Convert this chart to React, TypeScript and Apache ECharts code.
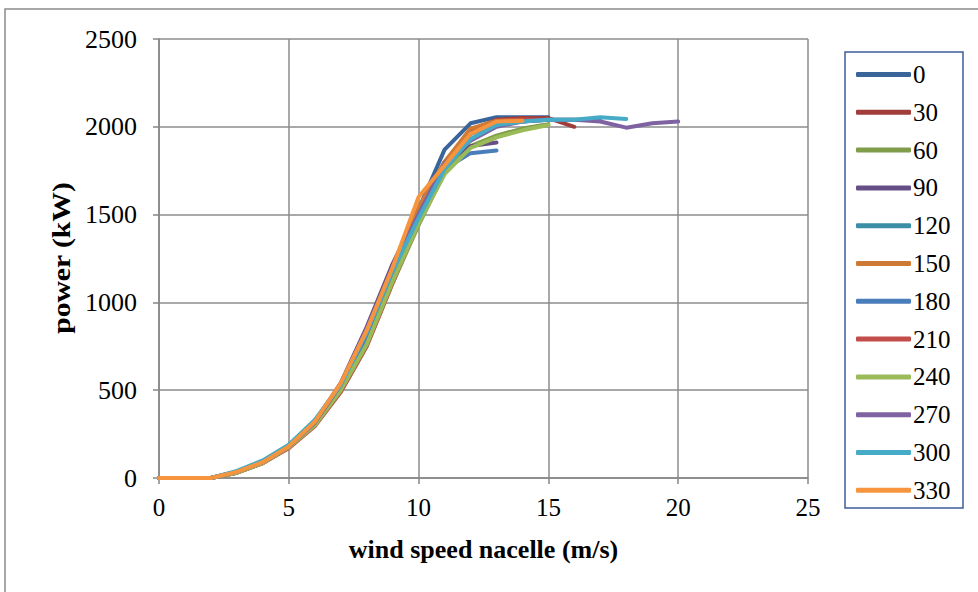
import React, { useEffect, useRef } from "react";
import * as echarts from "echarts";

const directions = ["0", "30", "60", "90", "120", "150", "180", "210", "240", "270", "300", "330"];
const colors = ["#3A659A", "#A03C3A", "#7F9C48", "#664E87", "#3A8FA6", "#CF7A34", "#4A7EBB", "#C24D4A", "#9ABB58", "#7E62A1", "#45ABC7", "#F7953F"];

const p0 = [0, 0, 0, 35, 90, 180, 310, 520, 830, 1180, 1530, 1870, 2020, 2055, 2055, 2055];
const p30 = [0, 0, 0, 30, 85, 175, 300, 500, 760, 1120, 1480, 1780, 1980, 2040, 2050, 2050, 2000];
const p60 = [0, 0, 0, 30, 85, 175, 300, 490, 750, 1110, 1440, 1740, 1890, 1950, 1990, 2015];
const p90 = [0, 0, 0, 35, 90, 185, 320, 540, 860, 1220, 1520, 1800, 1890, 1910];
const p120 = [0, 0, 0, 35, 95, 185, 320, 520, 820, 1170, 1500, 1800, 1960, 2020, 2030, 2040, 2040, 2045];
const p150 = [0, 0, 0, 35, 90, 180, 315, 520, 820, 1170, 1540, 1800, 1990, 2035, 2040];
const p180 = [0, 0, 0, 35, 90, 180, 310, 510, 800, 1150, 1500, 1760, 1850, 1865];
const p210 = [0, 0, 0, 30, 85, 170, 295, 490, 750, 1110, 1460, 1770, 1960, 2030, 2040, 2040];
const p240 = [0, 0, 0, 30, 85, 175, 300, 500, 760, 1120, 1450, 1730, 1880, 1940, 1980, 2010];
const p270 = [0, 0, 0, 35, 90, 180, 315, 530, 850, 1200, 1500, 1790, 1920, 2000, 2030, 2040, 2040, 2030, 1995, 2020, 2030];
const p300 = [0, 0, 0, 40, 100, 190, 330, 530, 830, 1180, 1480, 1760, 1930, 2010, 2030, 2040, 2040, 2055, 2045];
const p330 = [0, 0, 0, 35, 90, 180, 320, 540, 840, 1200, 1600, 1780, 1960, 2030, 2035];

const powerCurves = [p0, p30, p60, p90, p120, p150, p180, p210, p240, p270, p300, p330];

const xTitle = "wind speed nacelle (m/s)";
const yTitle = "power (kW)";

const FONT = "'Liberation Serif', 'Times New Roman', serif";

export default function App() {
  const ref = useRef<HTMLDivElement>(null);
  useEffect(() => {
    document.body.style.margin = "0";
    const chart = echarts.init(ref.current!, null, { renderer: "svg" });
    const series = powerCurves.map((vals, i) => ({
      name: directions[i],
      type: "line",
      data: vals.map((v, x) => [x, v]),
      showSymbol: false,
      symbol: "none",
      lineStyle: { width: 4, color: colors[i], cap: "round", join: "round" },
      itemStyle: { color: colors[i] },
      z: 2 + i,
    }));
    chart.setOption({
      animation: false,
      backgroundColor: "#ffffff",
      textStyle: { fontFamily: FONT },
      grid: { left: 159, right: 170, top: 39, bottom: 114, containLabel: false },
      xAxis: {
        type: "value",
        min: 0,
        max: 25,
        interval: 5,
        name: xTitle,
        nameLocation: "middle",
        nameGap: 58,
        nameTextStyle: { fontFamily: FONT, fontSize: 26, fontWeight: "bold", color: "#000" },
        axisLine: { show: true, lineStyle: { color: "#868686", width: 1.5 } },
        axisTick: { show: true, length: 6, lineStyle: { color: "#868686", width: 1.5 } },
        axisLabel: { fontFamily: FONT, fontSize: 25, color: "#000", margin: 17 },
        splitLine: { show: true, lineStyle: { color: "#8C8C8C", width: 1.5 } },
      },
      yAxis: {
        type: "value",
        min: 0,
        max: 2500,
        interval: 500,
        axisLine: { show: true, lineStyle: { color: "#868686", width: 1.5 } },
        axisTick: { show: true, length: 6, lineStyle: { color: "#868686", width: 1.5 } },
        axisLabel: { fontFamily: FONT, fontSize: 26, color: "#000", margin: 22, formatter: (v: number) => String(v) },
        splitLine: { show: true, lineStyle: { color: "#8C8C8C", width: 1.5 } },
      },
      legend: {
        orient: "vertical",
        left: 851,
        top: 57,
        itemWidth: 55,
        itemHeight: 5,
        itemGap: 12.8,
        icon: "roundRect",
        textStyle: { fontFamily: FONT, fontSize: 25, color: "#000", padding: [0, 0, 0, -3] },
        data: directions,
      },
      graphic: [
        {
          type: "rect",
          shape: { x: 5, y: 9, width: 1000, height: 700 },
          style: { fill: "none", stroke: "#8C8C8C", lineWidth: 1.5 },
          silent: true,
        },
        {
          type: "rect",
          shape: { x: 845, y: 52, width: 118, height: 456 },
          style: { fill: "none", stroke: "#3D5E9C", lineWidth: 1.5 },
          silent: true,
        },
        {
          type: "text",
          x: 61,
          y: 258,
          rotation: Math.PI / 2,
          scaleX: 1.14,
          style: {
            text: yTitle,
            font: "bold 26px 'Liberation Serif', 'Times New Roman', serif",
            fill: "#000",
            align: "center",
            verticalAlign: "middle",
          },
          silent: true,
        },
      ],
      series,
    });
    return () => chart.dispose();
  }, []);
  return <div ref={ref} style={{ width: 978, height: 592 }} />;
}
